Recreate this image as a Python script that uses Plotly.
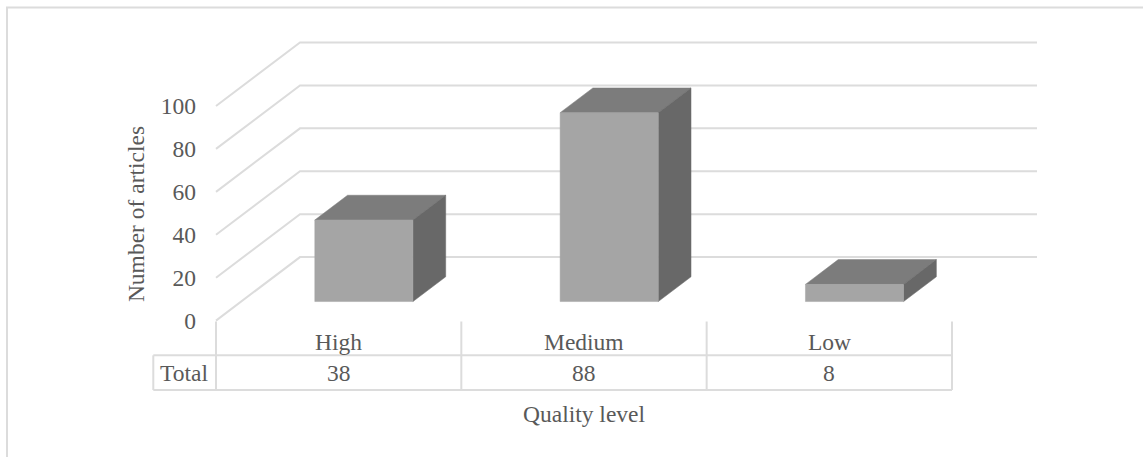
import plotly.graph_objects as go

# Chart data
categories = ["High", "Medium", "Low"]
values = [38, 88, 8]
table_label = "Total"
y_ticks = [0, 20, 40, 60, 80, 100]
x_title = "Quality level"
y_title = "Number of articles"

# Canvas and projection constants, in pixels
W, H = 1143, 457
LEFT, CAT_W = 216.0, 245.33      # front plane start, width of a category
ZERO_Y, PX_PER_UNIT = 320.6, 2.146
DEPTH_X, DEPTH_Y = 84.0, 63.5    # floor depth vector
PLOT_TOP, PLOT_BOTTOM = 36.0, 392.0
PLOT_LEFT, PLOT_RIGHT = 150.0, 1037.0

GRID = "#dcdcdc"
TEXT = "#595959"
FONT = "Liberation Serif"
FONT_SIZE = 23.5
FRONT, TOP, SIDE = "#a5a5a5", "#7c7c7c", "#686868"

dx = DEPTH_X / CAT_W
dy = DEPTH_Y / PX_PER_UNIT


def data_x(px):
    return (px - LEFT) / CAT_W


def data_y(px):
    return (ZERO_Y - px) / PX_PER_UNIT


def project(x, y, depth):
    """Shear a (category, value, depth) point onto the chart plane."""
    return x + depth * dx, y + depth * dy


def line(xs, ys, width=2):
    return go.Scatter(x=xs, y=ys, mode="lines", hoverinfo="skip",
                      line=dict(color=GRID, width=width), showlegend=False)


def poly(points, color):
    return go.Scatter(x=[p[0] for p in points] + [points[0][0]],
                      y=[p[1] for p in points] + [points[0][1]],
                      mode="lines", fill="toself", fillcolor=color,
                      line=dict(color=color, width=0.5), showlegend=False, hoverinfo="skip")


fig = go.Figure()
n = len(categories)
text_font = dict(family=FONT, size=FONT_SIZE, color=TEXT)

# Side wall and back wall gridlines
for t in y_ticks:
    bx, by = project(0, t, 1)
    fig.add_trace(line([0, bx, data_x(PLOT_RIGHT)], [t, by, by]))

# Cuboid bars, centred on each category and in the floor depth
bar_w, d0, d1 = 0.4, 0.3, 0.69
for i, v in enumerate(values):
    x0, x1 = i + 0.3, i + 0.3 + bar_w
    fig.add_trace(poly([project(x0, v, d0), project(x1, v, d0),
                        project(x1, v, d1), project(x0, v, d1)], TOP))
    fig.add_trace(poly([project(x1, 0, d0), project(x1, 0, d1),
                        project(x1, v, d1), project(x1, v, d0)], SIDE))
    fig.add_trace(poly([project(x0, 0, d0), project(x1, 0, d0),
                        project(x1, v, d0), project(x0, v, d0)], FRONT))

# Data table under the axis
top = data_y(321.5)
row1, row2 = data_y(355.3), data_y(390)
left_cell = data_x(153.3)
for i in range(n + 1):
    fig.add_trace(line([i, i], [top, row2]))
fig.add_trace(line([left_cell, n], [row1, row1]))
fig.add_trace(line([left_cell, n], [row2, row2]))
fig.add_trace(line([left_cell, left_cell], [row1, row2]))

label_y, value_y = data_y(342), data_y(372.6)
fig.add_annotation(x=data_x(183.5), y=value_y, text=table_label, showarrow=False, font=text_font)
for i, (c, v) in enumerate(zip(categories, values)):
    fig.add_annotation(x=i + 0.5, y=label_y, text=c, showarrow=False, font=text_font)
    fig.add_annotation(x=i + 0.5, y=value_y, text=str(v), showarrow=False, font=text_font)

# Horizontal axis title, centred under the table
fig.add_annotation(xref="paper", yref="paper", x=584 / W, y=1 - 414 / H, text=x_title,
                   xanchor="center", yanchor="middle", showarrow=False, font=text_font)

# Outer chart frame: top and left edges
fig.add_shape(type="line", xref="paper", yref="paper", x0=6 / W, x1=1, y0=1 - 7.5 / H, y1=1 - 7.5 / H,
              line=dict(color=GRID, width=2))
fig.add_shape(type="line", xref="paper", yref="paper", x0=7 / W, x1=7 / W, y0=0, y1=1 - 7.5 / H,
              line=dict(color=GRID, width=2))

fig.update_layout(
    width=W, height=H, margin=dict(l=0, r=0, t=0, b=0), autosize=False,
    paper_bgcolor="white", plot_bgcolor="white", showlegend=False,
    font=text_font,
    xaxis=dict(domain=[PLOT_LEFT / W, PLOT_RIGHT / W], range=[data_x(PLOT_LEFT), data_x(PLOT_RIGHT)],
               showticklabels=False, showgrid=False, zeroline=False, showline=False, ticks="",
               automargin=False),
    yaxis=dict(domain=[1 - PLOT_BOTTOM / H, 1 - PLOT_TOP / H],
               range=[data_y(PLOT_BOTTOM), data_y(PLOT_TOP)],
               anchor="free", position=LEFT / W,
               tickvals=y_ticks, showgrid=False, zeroline=False, showline=False, ticks="",
               ticklabelstandoff=20, automargin=False,
               title=dict(text=y_title, standoff=8, font=text_font)),
)

fig.write_html("out.html")
